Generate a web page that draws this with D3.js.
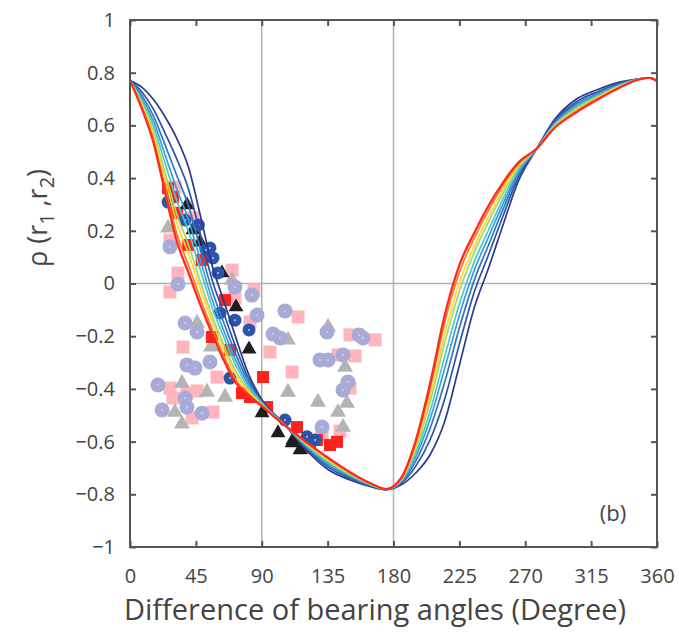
<!DOCTYPE html>
<html>
<head>
<meta charset="utf-8">
<script src="https://cdn.jsdelivr.net/npm/d3@7"></script>
<style>
  body { margin: 0; background: #fff; }
  text { font-family: "Open Sans", "Noto Sans", sans-serif; fill: #444; }
</style>
</head>
<body>
<div id="chart"></div>
<script>
// bearing-angle grid shared by the model curves (degrees)
const curveX = [0, 8, 16, 24, 32, 40, 48, 56, 64, 72, 80, 90, 105, 120, 135, 150, 165, 175, 185, 195,
  205, 215, 225, 235, 245, 255, 265, 278, 290, 305, 320, 335, 348, 355, 360];

// model curves, navy first .. red last
const curveNavy = [0.77, 0.745, 0.698, 0.632, 0.55, 0.44, 0.26, 0.07, -0.065, -0.20, -0.33, -0.44, -0.53, -0.63, -0.705, -0.745, -0.772, -0.782, -0.765, -0.72,
  -0.65, -0.523, -0.31, -0.095, 0.06, 0.225, 0.385, 0.513, 0.622, 0.70, 0.737, 0.765, 0.777, 0.78, 0.768];
const curveDarkBlue = [0.77, 0.728, 0.662, 0.57, 0.472, 0.358, 0.189, 0.015, -0.112, -0.237, -0.349, -0.445, -0.531, -0.624, -0.696, -0.739, -0.769, -0.782, -0.76, -0.695,
  -0.593, -0.438, -0.23, -0.035, 0.11, 0.259, 0.4, 0.513, 0.615, 0.69, 0.729, 0.761, 0.777, 0.78, 0.768];
const curveBlue = [0.77, 0.715, 0.636, 0.525, 0.409, 0.294, 0.134, -0.026, -0.148, -0.265, -0.363, -0.449, -0.532, -0.619, -0.688, -0.734, -0.768, -0.781, -0.756, -0.676,
  -0.55, -0.374, -0.169, 0.01, 0.147, 0.284, 0.412, 0.513, 0.61, 0.682, 0.723, 0.758, 0.776, 0.78, 0.768];
const curveLightBlue = [0.77, 0.705, 0.616, 0.488, 0.358, 0.242, 0.09, -0.06, -0.178, -0.288, -0.375, -0.453, -0.533, -0.615, -0.683, -0.73, -0.766, -0.781, -0.753, -0.66,
  -0.515, -0.322, -0.12, 0.048, 0.178, 0.305, 0.421, 0.513, 0.606, 0.675, 0.719, 0.755, 0.776, 0.78, 0.768];
const curveCyan = [0.77, 0.696, 0.598, 0.456, 0.314, 0.197, 0.053, -0.089, -0.202, -0.307, -0.385, -0.455, -0.533, -0.612, -0.678, -0.727, -0.765, -0.781, -0.75, -0.647,
  -0.485, -0.277, -0.078, 0.079, 0.204, 0.323, 0.429, 0.513, 0.602, 0.67, 0.714, 0.753, 0.776, 0.78, 0.768];
const curveGreen = [0.77, 0.686, 0.577, 0.419, 0.263, 0.145, 0.008, -0.122, -0.232, -0.33, -0.397, -0.459, -0.534, -0.608, -0.672, -0.723, -0.763, -0.78, -0.747, -0.631,
  -0.45, -0.225, -0.029, 0.116, 0.235, 0.343, 0.438, 0.513, 0.598, 0.663, 0.71, 0.75, 0.776, 0.78, 0.768];
const curveYellow = [0.77, 0.679, 0.564, 0.396, 0.231, 0.113, -0.019, -0.143, -0.25, -0.344, -0.404, -0.461, -0.534, -0.605, -0.668, -0.72, -0.762, -0.78, -0.745, -0.622,
  -0.429, -0.193, 0.002, 0.139, 0.254, 0.356, 0.444, 0.513, 0.596, 0.659, 0.707, 0.749, 0.775, 0.78, 0.768];
const curveOrange = [0.77, 0.671, 0.546, 0.365, 0.188, 0.068, -0.056, -0.172, -0.274, -0.363, -0.414, -0.463, -0.535, -0.602, -0.663, -0.717, -0.761, -0.78, -0.742, -0.608,
  -0.399, -0.148, 0.043, 0.17, 0.279, 0.374, 0.452, 0.513, 0.592, 0.654, 0.703, 0.746, 0.775, 0.78, 0.768];
const curveRed = [0.77, 0.665, 0.535, 0.345, 0.16, 0.04, -0.08, -0.19, -0.29, -0.375, -0.42, -0.465, -0.535, -0.60, -0.66, -0.715, -0.76, -0.78, -0.74, -0.60,
  -0.38, -0.12, 0.07, 0.19, 0.296, 0.385, 0.457, 0.513, 0.59, 0.65, 0.70, 0.745, 0.775, 0.78, 0.768];

const curves = [curveNavy, curveDarkBlue, curveBlue, curveLightBlue, curveCyan, curveGreen, curveYellow, curveOrange, curveRed];
const curveColors = ["#2b3a8c", "#2d52a3", "#3477c0", "#3a9fd8", "#4cc6cf", "#a6d46a", "#fcd92a", "#ff7a22", "#ff2a1f"];

// measured points [degree, rho]
const pinkSquares = [[30.7, 0.366], [43.0, 0.249], [27.3, 0.165], [32.8, 0.040], [27.3, -0.032], [69.7, 0.051], [71.7, -0.055],
  [84.7, -0.025], [82.0, -0.146], [36.2, -0.241], [59.4, -0.355], [27.3, -0.397], [45.8, -0.408], [38.9, -0.416], [29.4, -0.435],
  [56.7, -0.488], [42.4, -0.510], [114.8, -0.127], [95.6, -0.260], [150.3, -0.195], [167.4, -0.214], [142.1, -0.271], [153.7, -0.275],
  [110.7, -0.336], [143.5, -0.560], [131.2, -0.579], [150.3, -0.397]];
const grayTriangles = [[26.0, 0.211], [45.8, -0.150], [55.3, -0.241], [35.5, -0.378], [52.6, -0.412], [64.9, -0.431], [30.7, -0.488],
  [35.5, -0.533], [69.7, 0.013], [107.9, -0.214], [107.9, -0.412], [128.4, -0.450], [135.3, -0.165], [146.9, -0.317], [148.2, -0.454],
  [142.1, -0.488], [145.5, -0.545]];
const lavenderCircles = [[27.3, 0.139], [32.8, -0.002], [37.6, -0.150], [45.8, -0.184], [38.9, -0.309], [44.4, -0.321], [54.6, -0.298],
  [19.1, -0.385], [37.6, -0.435], [21.9, -0.480], [38.9, -0.469], [49.2, -0.492], [71.7, -0.013], [83.3, -0.044], [86.8, -0.120],
  [105.9, -0.104], [97.7, -0.192], [102.5, -0.207], [134.6, -0.184], [159.2, -0.207], [156.5, -0.195], [129.8, -0.290], [135.3, -0.290],
  [145.5, -0.271], [148.9, -0.374], [145.5, -0.404], [131.2, -0.545]];
const redSquares = [[26.0, 0.362], [29.4, 0.328], [32.1, 0.268], [39.8, 0.146], [49.0, 0.089], [56.0, -0.203], [68.3, -0.252],
  [76.5, -0.416], [82.0, -0.431], [90.9, -0.355], [93.6, -0.469], [114.1, -0.545], [127.7, -0.594], [136.6, -0.613], [141.4, -0.601],
  [123.0, -0.624], [64.9, -0.063]];
const blackTriangles = [[38.9, 0.298], [43.0, 0.203], [47.8, 0.157], [62.8, 0.040], [72.4, -0.089], [81.3, -0.249], [90.2, -0.491],
  [101.1, -0.567], [110.7, -0.605], [116.1, -0.632], [111.3, -0.594]];
const navyCircles = [[26.0, 0.309], [37.6, 0.241], [46.7, 0.222], [51.9, 0.127], [54.6, 0.135], [56.7, 0.097], [60.1, 0.040],
  [61.5, -0.112], [71.7, -0.139], [81.3, -0.176], [68.3, -0.359], [105.9, -0.518], [120.9, -0.582], [126.4, -0.594]];

const xTicks = [0, 45, 90, 135, 180, 225, 270, 315, 360];
const yTicks = [-1, -0.8, -0.6, -0.4, -0.2, 0, 0.2, 0.4, 0.6, 0.8, 1];
const xGrid = [90, 180];
const yGrid = [0];

const W = 679, H = 634;
const svg = d3.select("#chart").append("svg").attr("width", W).attr("height", H);

const x = d3.scaleLinear().domain([0, 360]).range([130, 657]);
const y = d3.scaleLinear().domain([-1, 1]).range([547, 20]);

// grid
svg.selectAll(".gx").data(xGrid).enter().append("line")
  .attr("x1", d => x(d)).attr("x2", d => x(d)).attr("y1", y(1)).attr("y2", y(-1))
  .attr("stroke", "#b0b0b0").attr("stroke-width", 1.5);
svg.selectAll(".gy").data(yGrid).enter().append("line")
  .attr("x1", x(0)).attr("x2", x(360)).attr("y1", d => y(d)).attr("y2", d => y(d))
  .attr("stroke", "#b0b0b0").attr("stroke-width", 1.5);

// scatter
const g = svg.append("g");
const sq = (data, fill, s) => g.selectAll(null).data(data).enter().append("rect")
  .attr("x", d => x(d[0]) - s / 2).attr("y", d => y(d[1]) - s / 2)
  .attr("width", s).attr("height", s).attr("fill", fill);
const tri = (data, fill, area) => g.selectAll(null).data(data).enter().append("path")
  .attr("d", d3.symbol(d3.symbolTriangle, area))
  .attr("transform", d => "translate(" + x(d[0]) + "," + y(d[1]) + ")")
  .attr("fill", fill);
const circ = (data, fill, r, dot) => {
  g.selectAll(null).data(data).enter().append("circle")
    .attr("cx", d => x(d[0])).attr("cy", d => y(d[1])).attr("r", r).attr("fill", fill);
  g.selectAll(null).data(data).enter().append("circle")
    .attr("cx", d => x(d[0])).attr("cy", d => y(d[1])).attr("r", 1).attr("fill", dot);
};

sq(pinkSquares, "#ffb5bb", 13);
tri(grayTriangles, "#b4b4b4", 110);
circ(lavenderCircles, "#a8aad8", 7.5, "#e8c8d8");
sq(redSquares, "#ff2020", 12);
tri(blackTriangles, "#1d1d1d", 95);
circ(navyCircles, "#2c55a8", 6.5, "#c0c8e8");

// model curves
const line = d3.line()
  .x((d, i) => x(curveX[i]))
  .y(d => y(d))
  .curve(d3.curveMonotoneX);

svg.selectAll(".curve").data(curves).enter().append("path")
  .attr("d", line)
  .attr("fill", "none")
  .attr("stroke", (d, i) => curveColors[i])
  .attr("stroke-width", (d, i) => i === curves.length - 1 ? 2.3 : 1.7);

// axes with inward ticks
const axisStyle = a => {
  a.select(".domain").remove();
  a.selectAll(".tick line").attr("stroke", "#555").attr("stroke-width", 2);
  a.selectAll("text").attr("fill", "#444").style("font-size", "20px");
};
svg.append("g").attr("transform", "translate(0," + y(-1) + ")")
  .call(d3.axisBottom(x).tickValues(xTicks).tickSizeInner(-6).tickSizeOuter(0).tickPadding(22))
  .call(axisStyle);
svg.append("g").attr("transform", "translate(0," + y(1) + ")")
  .call(d3.axisTop(x).tickValues(xTicks).tickSizeInner(-6).tickSizeOuter(0).tickFormat(""))
  .call(axisStyle);
svg.append("g").attr("transform", "translate(" + x(0) + ",0)")
  .call(d3.axisLeft(y).tickValues(yTicks).tickSizeInner(-6).tickSizeOuter(0).tickPadding(15)
    .tickFormat(d => d3.format("")(+d.toFixed(1))))
  .call(axisStyle);
svg.append("g").attr("transform", "translate(" + x(360) + ",0)")
  .call(d3.axisRight(y).tickValues(yTicks).tickSizeInner(-6).tickSizeOuter(0).tickFormat(""))
  .call(axisStyle);

// frame
svg.append("rect")
  .attr("x", x(0)).attr("y", y(1))
  .attr("width", x(360) - x(0)).attr("height", y(-1) - y(1))
  .attr("fill", "none").attr("stroke", "#555").attr("stroke-width", 2);

// titles
svg.append("text")
  .attr("x", 375).attr("y", 620)
  .attr("text-anchor", "middle")
  .style("font-size", "29px")
  .text("Difference of bearing angles (Degree)");

const yt = svg.append("text")
  .attr("transform", "translate(47,218) rotate(-90)")
  .attr("text-anchor", "middle")
  .style("font-size", "27px");
yt.append("tspan").text("ρ (r");
yt.append("tspan").attr("dy", 7).style("font-size", "20px").text("1");
yt.append("tspan").attr("dy", -7).text(" ,r");
yt.append("tspan").attr("dy", 7).style("font-size", "20px").text("2");
yt.append("tspan").attr("dy", -7).text(")");

svg.append("text")
  .attr("x", 613).attr("y", 521)
  .attr("text-anchor", "middle")
  .style("font-size", "22px")
  .text("(b)");
</script>
</body>
</html>
